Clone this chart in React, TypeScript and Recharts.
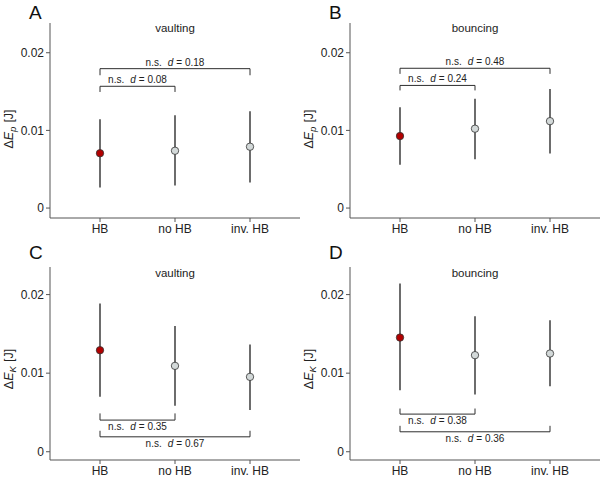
import React from "react"
import { ComposedChart, Scatter, ErrorBar, XAxis, YAxis, ReferenceLine } from "recharts"

const categories = ["HB", "no HB", "inv. HB"]

// panel A: potential energy, vaulting
const epVaultMean = [0.00706, 0.00738, 0.0079]
const epVaultLow = [0.00264, 0.0029, 0.00328]
const epVaultHigh = [0.01145, 0.01196, 0.01247]

// panel B: potential energy, bouncing
const epBounceMean = [0.00927, 0.01022, 0.01119]
const epBounceLow = [0.00557, 0.0063, 0.00702]
const epBounceHigh = [0.01298, 0.01409, 0.01533]

// panel C: kinetic energy, vaulting
const ekVaultMean = [0.01292, 0.01093, 0.00953]
const ekVaultLow = [0.00699, 0.00585, 0.0053]
const ekVaultHigh = [0.01886, 0.01601, 0.01365]

// panel D: kinetic energy, bouncing
const ekBounceMean = [0.01453, 0.01229, 0.0125]
const ekBounceLow = [0.00784, 0.00729, 0.00835]
const ekBounceHigh = [0.0214, 0.01724, 0.01673]

// brackets: HB vs no HB, HB vs inv. HB  -> [line level, end level, effect size]
const epVaultBrackets = [[0.01568, 0.01495, "0.08"], [0.01795, 0.0171, "0.18"]]
const epBounceBrackets = [[0.01579, 0.01515, "0.24"], [0.018, 0.01728, "0.48"]]
const ekVaultBrackets = [[0.00403, 0.00488, "0.35"], [0.0019, 0.00267, "0.67"]]
const ekBounceBrackets = [[0.00479, 0.0055, "0.38"], [0.00254, 0.0033, "0.36"]]

const yTicks = [0, 0.01, 0.02]

const FONT = "'Liberation Sans', Arial, Helvetica, sans-serif"
const AXIS = "#555"
const BAR = "#2e2e2e"

function buildData(mean: number[], low: number[], high: number[]) {
  return categories.map((c, i) => ({
    x: i + 1,
    y: mean[i],
    err: [mean[i] - low[i], high[i] - mean[i]],
    hb: i === 0,
  }))
}

const Dot = (props: any) => {
  const { cx, cy, payload } = props
  return (
    <circle cx={cx} cy={cy} r={3.7} fill={payload.hb ? "#b20000" : "#d3d9d9"} stroke="#333" strokeWidth={0.8} />
  )
}

function bracketLabel(d: string, above: boolean) {
  return (props: any) => {
    const vb = props.viewBox || {}
    const x0 = vb.x1 !== undefined ? Math.min(vb.x1, vb.x2) : vb.x
    const w = vb.x1 !== undefined ? Math.abs(vb.x2 - vb.x1) : vb.width
    const y0 = vb.y1 !== undefined ? vb.y1 : vb.y
    const cx = x0 + w / 2
    const ty = above ? y0 - 3 : y0 + 10
    return (
      <text x={cx} y={ty} textAnchor="middle" fontSize={10} fill="#222" fontFamily={FONT}>
        n.s.
        <tspan dx={6} fontStyle="italic">d</tspan>
        <tspan dx={3}>{"= " + d}</tspan>
      </text>
    )
  }
}

function Panel(props: any) {
  const { letter, title, sub, mean, low, high, brackets, above, top, domain, titleY } = props
  const data = buildData(mean, low, high)
  const xAxisH = 240 - top - (top === 23 ? 195 : 193)
  return (
    <div style={{ position: "relative", width: 300, height: 240 }}>
      <ComposedChart width={300} height={240} data={data} margin={{ top, right: 0, bottom: 0, left: 0 }}>
        <XAxis
          dataKey="x"
          type="number"
          domain={[1 / 3, 11 / 3]}
          allowDataOverflow
          ticks={[1, 2, 3]}
          tickFormatter={(v: number) => categories[v - 1]}
          height={xAxisH}
          tickSize={4}
          tickMargin={2}
          stroke={AXIS}
          tick={{ fill: "#222", fontSize: 12, fontFamily: FONT }}
        />
        <YAxis
          type="number"
          domain={domain}
          allowDataOverflow
          ticks={yTicks}
          tickFormatter={(v: number) => (v === 0 ? "0" : v.toFixed(2))}
          width={50}
          tickSize={4}
          tickMargin={2}
          stroke={AXIS}
          tick={{ fill: "#222", fontSize: 12, fontFamily: FONT }}
        />
        {brackets.map((b: any, i: number) => {
          const x2 = i + 2
          return (
            <React.Fragment key={i}>
              <ReferenceLine
                segment={[{ x: 1, y: b[0] }, { x: x2, y: b[0] }]}
                stroke={BAR}
                strokeWidth={1}
                ifOverflow="visible"
                label={bracketLabel(b[2], above)}
              />
              <ReferenceLine segment={[{ x: 1, y: b[0] }, { x: 1, y: b[1] }]} stroke={BAR} strokeWidth={1} ifOverflow="visible" />
              <ReferenceLine segment={[{ x: x2, y: b[0] }, { x: x2, y: b[1] }]} stroke={BAR} strokeWidth={1} ifOverflow="visible" />
            </React.Fragment>
          )
        })}
        <Scatter dataKey="y" shape={<Dot />} isAnimationActive={false}>
          <ErrorBar dataKey="err" direction="y" width={0} stroke={BAR} strokeWidth={1.4} isAnimationActive={false} />
        </Scatter>
      </ComposedChart>
      <svg width={300} height={240} style={{ position: "absolute", left: 0, top: 0, pointerEvents: "none" }}>
        <text x={29} y={19} fontSize={19} fontFamily={FONT} fill="#111">{letter}</text>
        <text x={175} y={titleY} fontSize={11.5} fontFamily={FONT} fill="#222" textAnchor="middle">{title}</text>
        <text transform="translate(13,129) rotate(-90)" fontSize={12.5} fontFamily={FONT} fill="#222" textAnchor="middle">
          Δ<tspan fontStyle="italic">E</tspan>
          <tspan fontStyle="italic" fontSize={9.5} dy={3}>{sub}</tspan>
          <tspan dy={-3} dx={4}>[J]</tspan>
        </text>
      </svg>
    </div>
  )
}

export default function App() {
  const topDomain = [-0.00128, 0.02383]
  const botDomain = [-0.00105, 0.02351]
  return (
    <div style={{ position: "absolute", left: 0, top: 0, width: 600, height: 480, background: "#fff", display: "grid", gridTemplateColumns: "300px 300px", gridTemplateRows: "240px 240px" }}>
      <Panel letter="A" title="vaulting" sub="p" mean={epVaultMean} low={epVaultLow} high={epVaultHigh} brackets={epVaultBrackets} above top={23} domain={topDomain} titleY={32} />
      <Panel letter="B" title="bouncing" sub="p" mean={epBounceMean} low={epBounceLow} high={epBounceHigh} brackets={epBounceBrackets} above top={23} domain={topDomain} titleY={32} />
      <Panel letter="C" title="vaulting" sub="K" mean={ekVaultMean} low={ekVaultLow} high={ekVaultHigh} brackets={ekVaultBrackets} above={false} top={27} domain={botDomain} titleY={37} />
      <Panel letter="D" title="bouncing" sub="K" mean={ekBounceMean} low={ekBounceLow} high={ekBounceHigh} brackets={ekBounceBrackets} above={false} top={27} domain={botDomain} titleY={37} />
    </div>
  )
}
